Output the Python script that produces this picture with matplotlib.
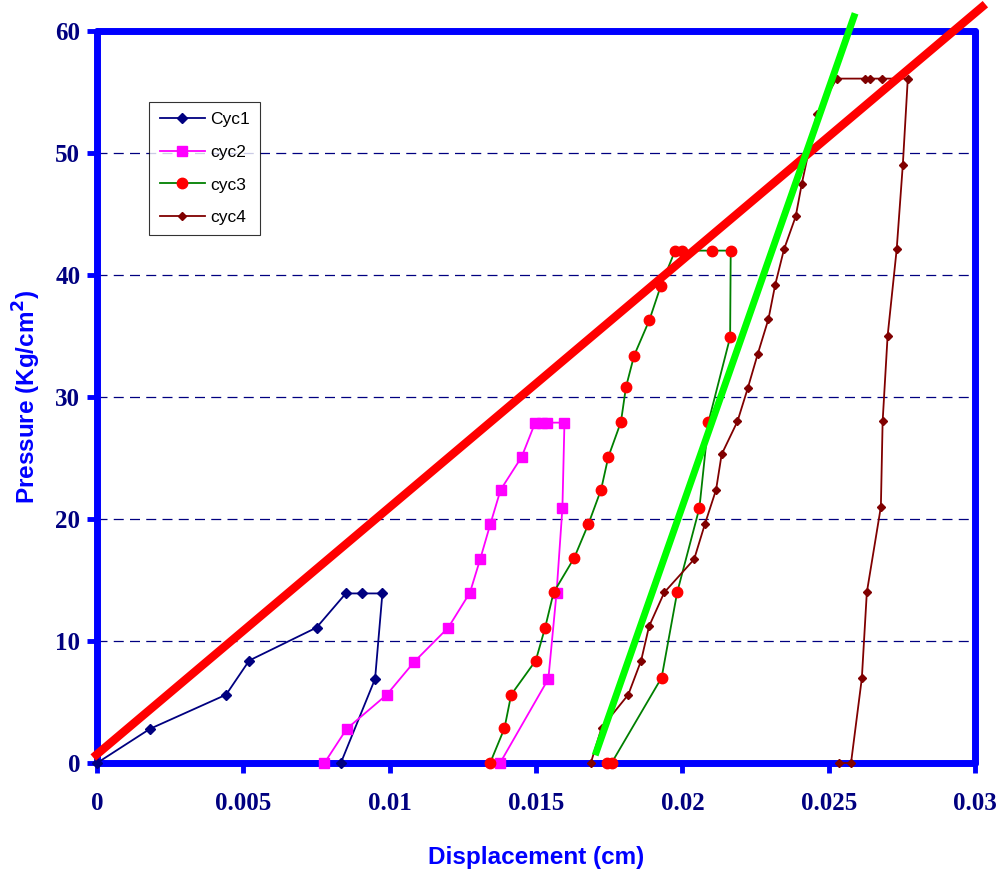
import matplotlib
matplotlib.use("Agg")
import matplotlib.pyplot as plt

# cycle data (displacement cm, pressure kg/cm2)
cyc1_x = [0.0, 0.00181, 0.00441, 0.0052, 0.0075, 0.0085, 0.00904, 0.00975, 0.0095, 0.00833]
cyc1_y = [0.0, 2.8, 5.6, 8.4, 11.1, 13.9, 13.9, 13.9, 6.9, 0.0]

cyc2_x = [0.00777, 0.00853, 0.0099, 0.01084, 0.012, 0.01274, 0.01309, 0.01344, 0.01379,
          0.01451, 0.01497, 0.0152, 0.01536, 0.01597, 0.0159, 0.0157, 0.01542, 0.01377]
cyc2_y = [0.0, 2.8, 5.6, 8.3, 11.1, 13.96, 16.7, 19.6, 22.4,
          25.1, 27.9, 27.9, 27.9, 27.9, 20.9, 13.96, 6.9, 0.0]

cyc3_x = [0.01343, 0.01392, 0.01415, 0.01499, 0.01531, 0.0156, 0.0163, 0.01679, 0.01722,
          0.01747, 0.0179, 0.01807, 0.01835, 0.01887, 0.01926, 0.01975, 0.01998, 0.02102,
          0.02165, 0.02163, 0.02089, 0.02058, 0.01982, 0.01929, 0.01758, 0.01741]
cyc3_y = [0.0, 2.85, 5.6, 8.4, 11.1, 13.98, 16.8, 19.6, 22.4,
          25.1, 27.96, 30.8, 33.4, 36.3, 39.1, 42.0, 42.0, 42.0,
          42.0, 34.9, 27.96, 20.9, 13.98, 7.0, 0.0, 0.0]

cyc4_x = [0.01687, 0.01724, 0.01815, 0.01859, 0.01886, 0.01938, 0.0204, 0.02077, 0.02115,
          0.02134, 0.02188, 0.02223, 0.02257, 0.02294, 0.02317, 0.02347, 0.02387, 0.02408,
          0.02459, 0.02527, 0.02624, 0.02641, 0.02683, 0.0277, 0.02753, 0.02732, 0.02701,
          0.02684, 0.02678, 0.0263, 0.02613, 0.02576, 0.02536]
cyc4_y = [0.0, 2.9, 5.6, 8.4, 11.2, 13.98, 16.7, 19.6, 22.4,
          25.3, 28.0, 30.7, 33.5, 36.4, 39.2, 42.1, 44.8, 47.5,
          53.2, 56.1, 56.1, 56.1, 56.1, 56.1, 49.05, 42.1, 35.0,
          28.0, 21.0, 13.98, 6.95, 0.0, 0.0]

# straight reference lines drawn over the data
red_x = [-0.00013, 0.03035]
red_y = [0.45, 62.2]
green_x = [0.01702, 0.0259]
green_y = [0.64, 61.45]

x_ticks = [0, 0.005, 0.01, 0.015, 0.02, 0.025, 0.03]
x_labels = ["0", "0.005", "0.01", "0.015", "0.02", "0.025", "0.03"]
y_ticks = [0, 10, 20, 30, 40, 50, 60]

fig = plt.figure(figsize=(9.99, 8.74), dpi=100)
ax = fig.add_axes([0.0971, 0.127, 0.879, 0.8375])

for g in [10, 20, 30, 40, 50]:
    ax.axhline(g, color="#000080", lw=0.9, ls=(0, (8, 5)), zorder=1)

ax.plot(cyc1_x, cyc1_y, color="#000080", lw=1.3, marker="D", ms=5,
        label="Cyc1", zorder=4, clip_on=False)
ax.plot(cyc2_x, cyc2_y, color="#FF00FF", lw=1.3, marker="s", ms=7.5,
        label="cyc2", zorder=4, clip_on=False)
ax.plot(cyc3_x, cyc3_y, color="#008000", lw=1.3, marker="o", ms=7.5,
        mfc="#FF0000", mec="#FF0000", label="cyc3", zorder=4, clip_on=False)
ax.plot(cyc4_x, cyc4_y, color="#800000", lw=1.3, marker="D", ms=4.5,
        label="cyc4", zorder=4, clip_on=False)

ax.plot(red_x, red_y, color="#FF0000", lw=6, solid_capstyle="butt", zorder=5, clip_on=False)
ax.plot(green_x, green_y, color="#00FF00", lw=5, solid_capstyle="butt", zorder=5, clip_on=False)

ax.set_xlim(0, 0.03)
ax.set_ylim(0, 60)

for s in ax.spines.values():
    s.set_color("#0000FF")
    s.set_linewidth(5)
    s.set_capstyle("round")
    s.set_zorder(3)

ax.set_xticks(x_ticks)
ax.set_xticklabels(x_labels)
ax.set_yticks(y_ticks)
ax.tick_params(axis="both", direction="out", length=7, width=3.5, color="#0000FF",
               labelcolor="#000080")
ax.tick_params(axis="x", pad=14)
ax.tick_params(axis="y", pad=5)
for lab in ax.get_xticklabels() + ax.get_yticklabels():
    lab.set_fontfamily("Liberation Serif")
    lab.set_fontweight("bold")
    lab.set_fontsize(18)

ax.set_xlabel("Displacement (cm)", fontsize=17.5, fontweight="bold",
              fontfamily="Liberation Sans", color="#0000FF", labelpad=22)
ax.set_ylabel("Pressure (Kg/cm$^\\mathbf{2}$)", fontsize=17.5, fontweight="bold",
              fontfamily="Liberation Sans", color="#0000FF", labelpad=9)

leg = ax.legend(loc="upper left", bbox_to_anchor=(0.0496, 0.915),
                prop={"family": "Liberation Sans", "size": 12.5},
                frameon=True, fancybox=False, edgecolor="black", handlelength=2.6,
                labelspacing=1.0, borderpad=0.6, handletextpad=0.3)
leg.get_frame().set_linewidth(0.8)
leg.set_zorder(6)

fig.savefig("out.png", dpi=100)
